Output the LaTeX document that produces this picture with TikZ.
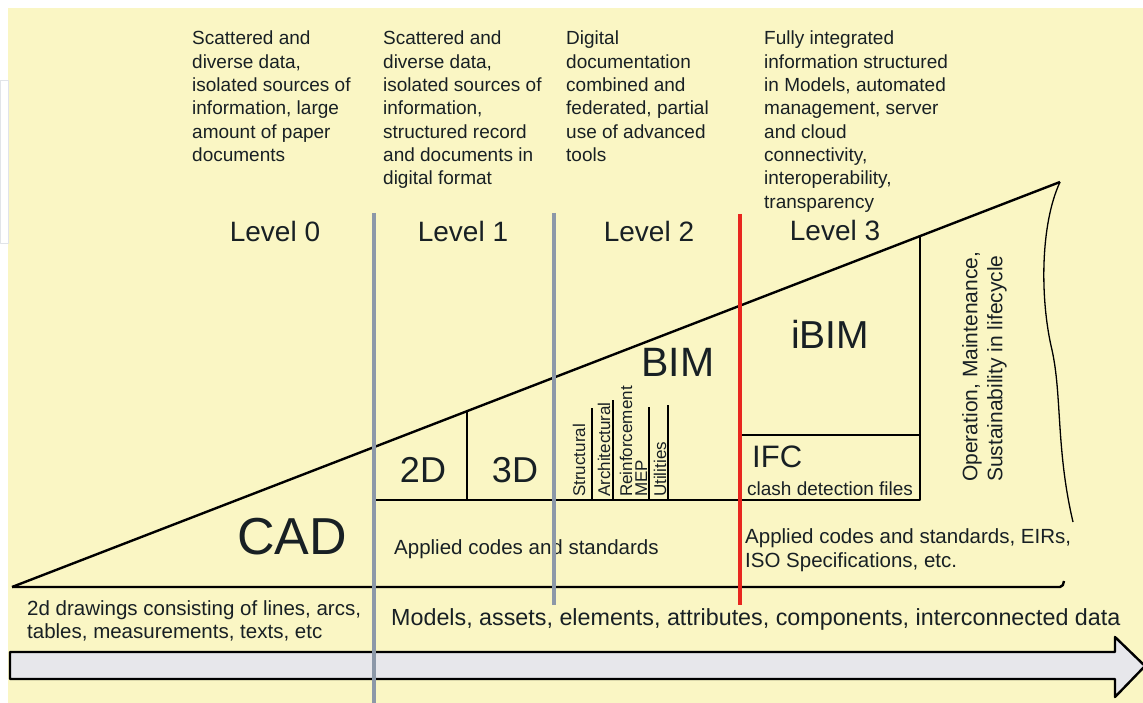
\documentclass[tikz,border=0pt]{standalone}
\usepackage{fontspec}
\setmainfont{Liberation Sans}
\definecolor{bgy}{RGB}{250,246,196}
\definecolor{ink}{RGB}{24,32,36}
\definecolor{greyl}{RGB}{140,152,168}
\definecolor{redl}{RGB}{232,38,30}
\definecolor{arrowfill}{RGB}{231,231,235}
\definecolor{faint}{RGB}{225,228,232}
\newcommand{\fs}[2]{\fontsize{#1}{#2}\selectfont}
\begin{document}
\begin{tikzpicture}[x=1pt,y=-1pt,line join=round,
  txt/.style={inner sep=0pt,text=ink},
  toptxt/.style={txt,align=left,anchor=north west,font=\fs{19}{23.3}},
  lvl/.style={txt,anchor=base,font=\fs{28}{32}},
  blk/.style={draw=black,line width=2.4pt},
  thinblk/.style={draw=black,line width=1.6pt},
  greyline/.style={draw=greyl,line width=3.2pt},
  redline/.style={draw=redl,line width=3.8pt},
  sub/.style={txt,anchor=base west,rotate=90,font=\fs{17}{19}}]
\useasboundingbox (0,0) rectangle (1143,703);
\fill[white] (0,0) rectangle (1143,703);
\fill[bgy] (8,8) rectangle (1143,703);
\draw[faint,line width=0.8pt] (0.5,80) rectangle (8,243);

% top descriptions
\node[toptxt] (d0) at (192,31) {Scattered and\\diverse data,\\isolated sources of\\information, large\\amount of paper\\documents};
\node[toptxt] (d1) at (383,31) {Scattered and\\diverse data,\\isolated sources of\\information,\\structured record\\and documents in\\digital format};
\node[toptxt] (d2) at (566,31) {Digital\\documentation\\combined and\\federated, partial\\use of advanced\\tools};
\node[toptxt] (d3) at (764,31) {Fully integrated\\information structured\\in Models, automated\\management, server\\and cloud\\connectivity,\\interoperability,\\transparency};

% levels
\node[lvl] (l0) at (275,242) {Level 0};
\node[lvl] (l1) at (463,242) {Level 1};
\node[lvl] (l2) at (649,242) {Level 2};
\node[lvl] (l3) at (835,241) {Level 3};

% triangle
\coordinate (A) at (12,587);
\coordinate (T) at (1060,182);
\coordinate (Bend) at (1060,587);
\coordinate (Bhook) at (1064,581);
\draw[blk] (A) -- (T);
\draw[blk] (A) -- (Bend) to[out=0,in=-100] (Bhook);
\draw[draw=black,line width=1.3pt] (T) .. controls (1040,225) and (1040,300) .. (1052,350)
   .. controls (1062,395) and (1056,450) .. (1073,522);

% boxes
\coordinate (b1) at (374,500);
\coordinate (b2) at (920,500);
\coordinate (b3) at (920,236);
\draw[blk] (b1) -- (b2) -- (b3);
\coordinate (c1) at (467,411);
\coordinate (c2) at (467,500);
\draw[blk] (c1) -- (c2);
\coordinate (i1) at (740,435);
\coordinate (i2) at (920,435);
\draw[blk] (i1) -- (i2);

% sub columns
\foreach \x/\t in {592/408,613/400,649/407,668/405}{
  \draw[thinblk] (\x,\t) -- (\x,500);
}
\node[sub] (s1) at (585,497) {Structural};
\node[sub] (s2) at (610,497) {Architectural};
\node[sub] (s3) at (632,497) {Reinforcement};
\node[sub] (s4) at (647,497) {MEP};
\node[sub] (s5) at (666,497) {Utilities};

% labels
\node[txt,anchor=base,font=\fs{52}{56}] (cad) at (292,554) {CAD};
\node[txt,anchor=base,font=\fs{36}{40}] (twod) at (423,482) {2D};
\node[txt,anchor=base,font=\fs{36}{40}] (threed) at (515,482) {3D};
\node[txt,anchor=base,font=\fs{41}{44}] (bim) at (678,376) {BIM};
\node[txt,anchor=base,font=\fs{39}{42}] (ibim) at (830,348) {iBIM};
\node[txt,anchor=base west,font=\fs{31}{34}] (ifc) at (752,467) {IFC};
\node[txt,anchor=base west,font=\fs{19}{21}] (clash) at (747,495) {clash detection files};
\node[txt,anchor=base west,font=\fs{20.5}{24}] (app1) at (394,554) {Applied codes and standards};
\node[txt,anchor=base west,font=\fs{20.5}{24}] (app3a) at (745,543) {Applied codes and standards, EIRs,};
\node[txt,anchor=base west,font=\fs{20.5}{24}] (app3b) at (745,567) {ISO Specifications, etc.};
\node[txt,anchor=north west,rotate=90,align=left,font=\fs{21}{25}] (oper) at (962,482) {Operation, Maintenance,\\Sustainability in lifecycle};

% bottom texts
\node[txt,anchor=base west,font=\fs{20.5}{23}] (cadtxt1) at (27,615) {2d drawings consisting of lines, arcs,};
\node[txt,anchor=base west,font=\fs{20.5}{23}] (cadtxt2) at (27,638) {tables, measurements, texts, etc};
\node[txt,anchor=base west,font=\fs{23.3}{26}] (bimtxt) at (391,625) {Models, assets, elements, attributes, components, interconnected data};

% big arrow
\draw[draw=black,line width=2.4pt,fill=arrowfill] (10,652) -- (1115,652) -- (1115,637) -- (1145,666)
  -- (1115,697) -- (1115,679) -- (10,679) -- cycle;

% level separators
\coordinate (g1t) at (374,213); \coordinate (g1b) at (374,703);
\coordinate (g2t) at (554,213); \coordinate (g2b) at (554,605);
\coordinate (rt) at (740,214);  \coordinate (rb) at (740,605);
\draw[greyline] (g1t) -- (g1b);
\draw[greyline] (g2t) -- (g2b);
\draw[redline] (rt) -- (rb);
\end{tikzpicture}
\end{document}
